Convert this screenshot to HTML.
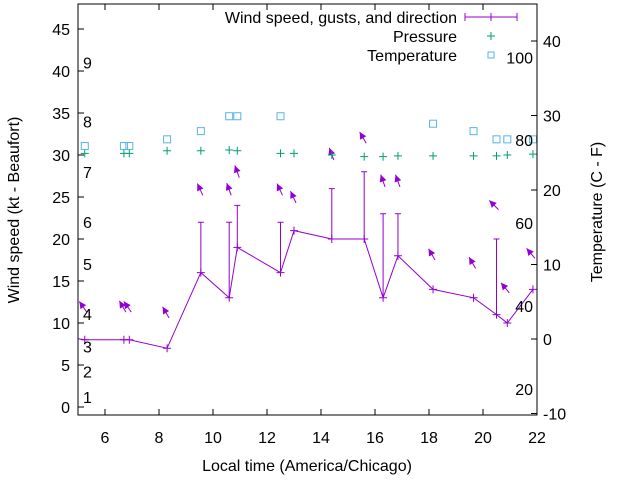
<!DOCTYPE html>
<html><head><meta charset="utf-8"><style>
body{margin:0;background:#fff;position:relative;width:640px;height:480px;overflow:hidden}
svg{display:block;font-family:"Liberation Sans",sans-serif}
text{font-size:16px;fill:#000}
</style></head><body>
<svg id="chart" width="640" height="480" viewBox="0 0 640 480" xmlns="http://www.w3.org/2000/svg">
<g id="marks"></g>
<g id="axes"></g>
</svg>
<script>
const hours = [5.25, 6.7, 6.9, 8.3, 9.55, 10.6, 10.9, 12.5, 13.0, 14.4, 15.6, 16.3, 16.85, 18.15, 19.65, 20.5, 20.9, 21.85];
const windSpeed = [8, 8, 8, 7, 16, 13, 19, 16, 21, 20, 20, 13, 18, 14, 13, 11, 10, 14];
const gustHours = [9.55, 10.6, 10.9, 12.5, 14.4, 15.6, 16.3, 16.85, 20.5];
const gustSpeed = [22, 22, 24, 22, 26, 28, 23, 23, 20];
const arrowLevel = [11.3, 11.3, 11.3, 10.6, 25.2, 25.2, 27.3, 25.2, 24.3, 29.4, 31.4, 26.2, 26.2, 17.5, 16.5, 23.5, 13.6, 17.7];
const arrowDir = [325, 330, 325, 330, 335, 340, 340, 335, 335, 340, 330, 340, 340, 330, 330, 315, 320, 320];
const pressure = [30.2, 30.2, 30.2, 30.5, 30.5, 30.6, 30.5, 30.2, 30.2, 30.0, 29.8, 29.8, 29.9, 29.9, 29.9, 29.9, 30.0, 30.1];
const tempHours = [5.25, 6.7, 6.9, 8.3, 9.55, 10.6, 10.9, 12.5, 18.15, 19.65, 20.5, 20.9, 21.85];
const tempC = [25.9, 25.9, 25.9, 26.8, 27.9, 29.9, 29.9, 29.9, 28.9, 27.9, 26.8, 26.8, 26.8];
const xTicks = [6, 8, 10, 12, 14, 16, 18, 20, 22];
const yTicks = [0, 5, 10, 15, 20, 25, 30, 35, 40, 45];
const y2Ticks = [-10, 0, 10, 20, 30, 40];
const beaufort = ["1","2","3","4","5","6","7","8","9"];
const beaufortKt = [1.2, 4.2, 7.2, 11.1, 17, 22, 28, 34, 41];
const fahrenheit = ["20","40","60","80","100"];
const fahrenheitC = [-6.7, 4.4, 15.6, 26.7, 37.8];

const L=78,R=537,T=4,B=415;
const X=h=>L+(h-5)*27;
const Y=w=>407-w*8.4;
const Y2=c=>339-c*7.45;
const NS="http://www.w3.org/2000/svg";
const marks=document.getElementById('marks'), axes=document.getElementById('axes');
function mk(tag,attrs,parent){const e=document.createElementNS(NS,tag);for(const k in attrs)e.setAttribute(k,attrs[k]);parent.appendChild(e);return e;}
const P='#9400d3', G='#009e73', C='#56b4e9';

let d='';hours.forEach((h,i)=>{d+=(i?'L':'M')+X(h)+' '+Y(windSpeed[i]);});
const wl=mk('path',{d:'M'+L+' '+(Y(windSpeed[0])-1)+' '+d.replace('M','L'),fill:'none',stroke:P,'stroke-width':1},marks);


hours.forEach((h,i)=>{const x=X(h),y=Y(windSpeed[i]);
 const p=mk('path',{d:`M${x-4} ${y}H${x+4}M${x} ${y-4}V${y+4}`,stroke:P,'stroke-width':1},marks);
 
 
});
gustHours.forEach((h,i)=>{const x=X(h),y=Y(gustSpeed[i]);const j=hours.indexOf(h);const y0=Y(windSpeed[j]);
 const p=mk('path',{d:`M${x} ${y0}V${y}M${x-3} ${y}H${x+3}`,stroke:P,'stroke-width':1},marks);
 
 
});
hours.forEach((h,i)=>{const tx=X(h)+2,ty=Y(arrowLevel[i]);const a=arrowDir[i]*Math.PI/180;
 const dx=Math.sin(a)*13,dy=-Math.cos(a)*13;const hx=tx+dx,hy=ty+dy;
 const ux=dx/13,uy=dy/13;const px=-uy,py=ux;
 const g=mk('g',{},marks);
 
 
 mk('line',{x1:tx,y1:ty,x2:hx,y2:hy,stroke:P,'stroke-width':1},g);
 mk('polygon',{points:`${hx},${hy} ${hx-ux*7+px*3.5},${hy-uy*7+py*3.5} ${hx-ux*7-px*3.5},${hy-uy*7-py*3.5}`,fill:P},g);
});
hours.forEach((h,i)=>{const x=X(h),y=Y(pressure[i]);
 const p=mk('path',{d:`M${x-4} ${y}H${x+4}M${x} ${y-4}V${y+4}`,stroke:G,'stroke-width':1},marks);
 
 
});
tempHours.forEach((h,i)=>{const x=X(h),y=Y2(tempC[i]);
 const p=mk('rect',{x:x-3.5,y:y-3.5,width:7,height:7,fill:'none',stroke:C,'stroke-width':1},marks);
 
 
});
beaufort.forEach((b,i)=>{const t=mk('text',{x:83,y:Y(beaufortKt[i])+6},marks);t.textContent=b;
 
 });
fahrenheit.forEach((f,i)=>{const t=mk('text',{x:533,y:Y2(fahrenheitC[i])+6,'text-anchor':'end'},marks);t.textContent=f;
 
 });

const fr=mk('rect',{x:L,y:T,width:R-L,height:B-T,fill:'none',stroke:'#000','stroke-width':1},axes);


xTicks.forEach(v=>{const x=X(v);mk('path',{d:`M${x} ${B}v-6M${x} ${T}v6`,stroke:'#000'},axes);
 const t=mk('text',{x:x,y:B+28,'text-anchor':'middle'},axes);t.textContent=v;
 
 });
yTicks.forEach(v=>{const y=Y(v);mk('path',{d:`M${L} ${y}h6`,stroke:'#000'},axes);
 const t=mk('text',{x:L-8,y:y+6,'text-anchor':'end'},axes);t.textContent=v;
 
 });
y2Ticks.forEach(v=>{const y=Y2(v);mk('path',{d:`M${R} ${y}h-6`,stroke:'#000'},axes);
 const t=mk('text',{x:R+6,y:y+6},axes);t.textContent=v;
 
 });
</script>
<svg width="640" height="480" style="position:absolute;left:0;top:0" font-family="Liberation Sans, sans-serif">
<text x="307" y="471" text-anchor="middle" font-size="16">Local time (America/Chicago)</text>
<text transform="translate(19,210) rotate(-90)" text-anchor="middle" font-size="16">Wind speed (kt - Beaufort)</text>
<text transform="translate(602,212) rotate(-90)" text-anchor="middle" font-size="16">Temperature (C - F)</text>
<g>
<text x="457" y="23" text-anchor="end" font-size="16">Wind speed, gusts, and direction</text>
<path d="M465 17H517M465 13v8M517 13v8M491 13v8" stroke="#9400d3" fill="none"/>
<text x="457" y="42" text-anchor="end" font-size="16">Pressure</text>
<path d="M487 36h8M491 32v8" stroke="#009e73"/>
<text x="457" y="61" text-anchor="end" font-size="16">Temperature</text>
<rect x="488" y="52" width="6" height="6" fill="none" stroke="#56b4e9"/>
</g>
</svg>
</body></html>
